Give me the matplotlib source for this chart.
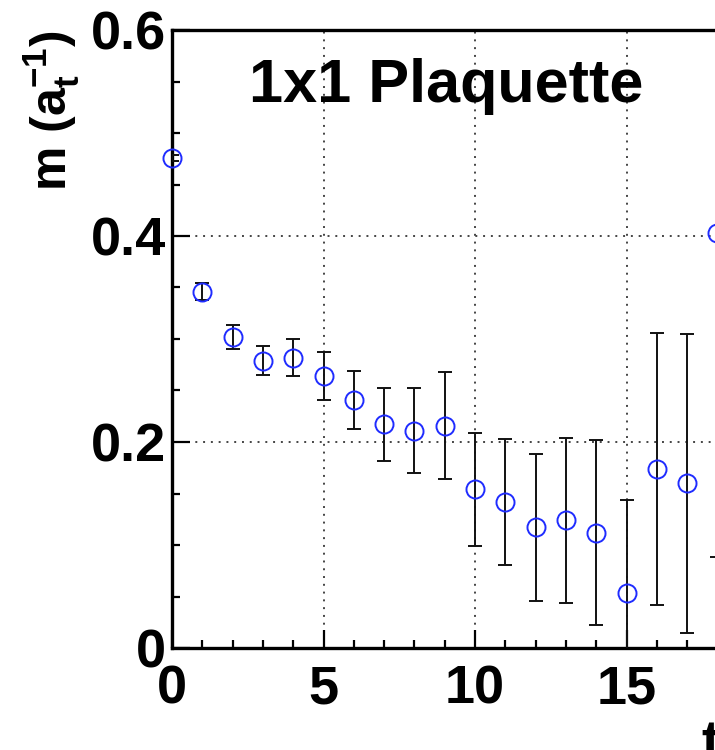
import numpy as np
import matplotlib
matplotlib.use("Agg")
import matplotlib.pyplot as plt
from matplotlib.ticker import MultipleLocator

plt.rcParams['font.family'] = ['Liberation Sans', 'DejaVu Sans']
plt.rcParams['font.weight'] = 'bold'
plt.rcParams['mathtext.fontset'] = 'custom'
plt.rcParams['mathtext.rm'] = 'Liberation Sans:bold'
plt.rcParams['mathtext.it'] = 'Liberation Sans:bold'
plt.rcParams['mathtext.bf'] = 'Liberation Sans:bold'

# effective mass vs time slice, 1x1 plaquette operator
t_vals = [0, 1, 2, 3, 4, 5, 6, 7, 8, 9, 10, 11, 12, 13, 14, 15, 16, 17, 18]
mass = [0.476, 0.346, 0.302, 0.279, 0.282, 0.264, 0.241, 0.217, 0.211, 0.216,
        0.154, 0.142, 0.117, 0.124, 0.112, 0.053, 0.174, 0.160, 0.403]
mass_err = [0.003, 0.008, 0.012, 0.014, 0.018, 0.023, 0.028, 0.035, 0.041, 0.052,
            0.055, 0.061, 0.071, 0.080, 0.090, 0.091, 0.132, 0.145, 0.315]

x_ticks = [0, 5, 10, 15]
x_tick_labels = ["0", "5", "10", "15"]
y_ticks = [0, 0.2, 0.4, 0.6]
y_tick_labels = ["0", "0.2", "0.4", "0.6"]

fig = plt.figure(figsize=(7.15, 7.5), dpi=100)
# axes runs off the right edge of the picture (cropped plot)
ax = fig.add_axes([172 / 715, 102 / 750, 606 / 715, 618 / 750])

ax.errorbar(t_vals, mass, yerr=mass_err, fmt='none', ecolor='#111111',
            elinewidth=1.4, capsize=5, capthick=1.4, zorder=3)
ax.plot(t_vals, mass, 'o', mfc='none', mec='#1f2cff', ms=13, mew=1.4,
        zorder=4, clip_on=False)

ax.set_xlim(0, 20)
ax.set_ylim(0, 0.6)
ax.set_xticks(x_ticks)
ax.set_xticklabels(x_tick_labels)
ax.set_yticks(y_ticks)
ax.set_yticklabels(y_tick_labels)
ax.xaxis.set_minor_locator(MultipleLocator(1))
ax.yaxis.set_minor_locator(MultipleLocator(0.05))

ax.grid(True, which='major', ls=(0, (1, 3)), lw=1.4, color='#444444')
ax.tick_params(which='both', direction='in', width=1.6, top=False, right=False)
ax.tick_params(which='major', length=13)
ax.tick_params(which='minor', length=6)
ax.tick_params(axis='x', labelsize=39, pad=12)
ax.tick_params(axis='y', labelsize=39, pad=4)
for lab in ax.get_xticklabels() + ax.get_yticklabels():
    lab.set_fontweight('bold')
for sp in ax.spines.values():
    sp.set_linewidth(2.4)

fig.text(446 / 715, 1 - 102 / 750, "1x1 Plaquette", ha='center', va='baseline',
         fontsize=44, fontweight='bold')
fig.text(52 / 715, 1 - 30 / 750, r"m (a$_{t}^{-1}$)", rotation=90, ha='center',
         va='top', fontsize=36, fontweight='bold')
fig.text(701 / 715, -0.012, "t", ha='left', va='baseline', fontsize=40,
         fontweight='bold')

fig.savefig("out.png", dpi=100)
